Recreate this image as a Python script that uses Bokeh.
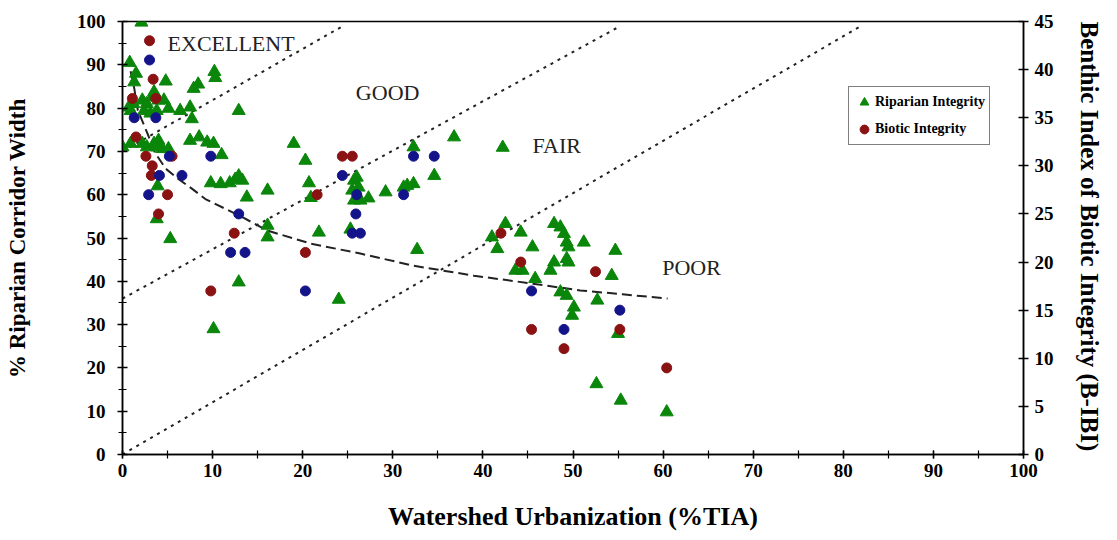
import math

from bokeh.plotting import figure
from bokeh.models import Range1d, LinearAxis, Legend, LegendItem, FixedTicker
from bokeh.core.properties import value
from bokeh.embed import file_html
from bokeh.resources import INLINE

FONT = "Liberation Serif"

# Riparian integrity: % riparian corridor width vs. watershed %TIA
rip_tia = [2.1, 0.8, 1.5, 1.3, 4.8, 8.4, 10.2, 10.3, 7.9, 2.2, 2.7, 3.3, 3.5, 4.0, 4.6,
           2.4, 3.1, 3.8, 5.1, 6.4, 7.5, 7.7, 12.9, 1.2, 0.7, 0.9, 0.0, 0.9, 2.2, 2.7,
           3.5, 3.8, 4.0, 4.4, 5.1, 7.5, 8.5, 9.4, 10.1, 11.0, 3.9, 3.8, 5.3, 9.8, 10.9,
           11.9, 12.5, 12.9, 13.3, 13.8, 16.1, 19.0, 20.3, 20.7, 20.9, 16.1, 16.1, 21.8,
           25.3, 12.9, 10.1, 24.0, 32.7, 25.7, 26.0, 25.5, 26.2, 26.4, 25.7, 27.3, 29.2,
           31.2, 31.6, 32.3, 34.6, 32.3, 36.8, 42.2, 42.5, 41.0, 41.6, 44.2, 45.5, 43.6,
           44.4, 45.8, 47.9, 48.6, 49.0, 49.3, 49.5, 51.2, 47.9, 47.5, 49.3, 49.5, 48.6,
           49.3, 50.1, 49.9, 52.7, 54.7, 54.3, 55.0, 52.6, 55.3, 60.4]
rip_width = [99.8, 90.5, 88.0, 86.0, 86.2, 85.5, 88.4, 87.0, 84.5, 81.8, 81.0, 82.5, 83.7,
             81.8, 81.8, 79.4, 78.8, 79.4, 79.9, 79.4, 80.2, 77.5, 79.4, 81.0, 80.2, 79.4,
             71.0, 71.8, 71.8, 71.0, 71.8, 71.0, 72.5, 70.6, 70.6, 72.5, 73.3, 72.1, 71.8,
             69.2, 62.0, 54.4, 49.8, 62.7, 62.5, 62.7, 63.5, 64.3, 63.3, 59.4, 61.0, 71.8,
             67.9, 62.7, 59.3, 52.9, 50.2, 51.3, 52.0, 39.8, 29.0, 35.8, 47.3, 63.3, 64.0,
             61.0, 61.7, 58.7, 58.7, 59.2, 60.6, 61.7, 62.1, 62.5, 64.4, 71.0, 73.3, 70.9,
             53.3, 50.2, 47.5, 51.3, 47.9, 42.5, 42.5, 40.6, 53.3, 52.5, 51.0, 49.0, 47.9,
             49.0, 44.4, 42.5, 45.2, 44.4, 37.5, 36.7, 34.0, 32.1, 35.6, 47.1, 41.3, 27.9,
             16.3, 12.5, 9.8]

# Biotic integrity (B-IBI score) vs. watershed %TIA
bio_tia = [3.0, 3.4, 1.1, 3.7, 1.5, 2.6, 5.5, 3.3, 3.2, 5.0, 4.0, 12.4, 9.8, 20.3, 21.6,
           24.4, 25.5, 42.0, 44.2, 45.4, 49.0, 52.5, 55.2, 60.4]
bio_ibi = [43, 39, 37, 37, 33, 31, 31, 30, 29, 27, 25, 23, 17, 21, 27,
           31, 31, 23, 20, 13, 11, 19, 13, 9]

# Additional B-IBI sites
bio2_tia = [3.0, 1.3, 3.7, 5.2, 9.8, 4.1, 6.6, 2.9, 12.9, 12.0, 13.6, 20.3, 24.4, 26.0,
            25.9, 25.5, 26.4, 31.2, 32.3, 34.6, 45.4, 49.0, 55.2]
bio2_ibi = [41, 35, 35, 31, 31, 29, 29, 27, 25, 21, 21, 17, 29, 27,
            25, 23, 23, 27, 31, 31, 17, 13, 15]

# Trend of corridor width with urbanization
trend_tia = [0.9, 1.3, 1.7, 2.8, 3.6, 4.8, 6.1, 7.7, 9.2, 13.4, 16.1, 20.9, 26.4, 32.3,
             39.0, 45.0, 50.8, 55.5, 60.5]
trend_width = [88.5, 84.6, 79.5, 74.0, 69.7, 66.0, 63.8, 61.4, 59.0, 54.7, 51.7, 48.7,
               46.4, 43.6, 41.3, 39.6, 37.9, 37.0, 36.0]

# Dividers between the integrity classes (start and end points)
div_tia = [[0, 24.5], [0, 55.3], [0, 82.0]]
div_width = [[70, 99], [36, 99], [0, 99]]

class_names = ["EXCELLENT", "GOOD", "FAIR", "POOR"]

p = figure(frame_width=901, frame_height=433,
           x_range=Range1d(0, 100), y_range=Range1d(0, 100),
           output_backend="svg", toolbar_location=None,
           min_border_left=122, min_border_right=94,
           min_border_top=21, min_border_bottom=86)
p.extra_y_ranges = {"ibi": Range1d(0, 45)}
p.grid.visible = False
p.background_fill_color = "white"
p.border_fill_color = "white"
p.outline_line_color = "black"
p.outline_line_width = 1.5


def style_axis(ax, tick):
    ax.axis_line_color = "black"
    ax.axis_line_width = 1.5
    ax.major_tick_line_color = "black"
    ax.major_tick_line_width = 1.5
    ax.minor_tick_line_color = "black"
    ax.minor_tick_line_width = 1.2
    ax.major_tick_in = tick
    ax.major_tick_out = tick
    ax.minor_tick_in = tick - 1
    ax.minor_tick_out = tick - 1
    ax.major_label_text_font = FONT
    ax.major_label_text_font_style = "bold"
    ax.major_label_text_font_size = "19px"
    ax.major_label_text_color = "black"
    ax.axis_label_text_font = FONT
    ax.axis_label_text_font_style = "bold"
    ax.axis_label_text_color = "black"


xa = p.xaxis[0]
xa.ticker = FixedTicker(ticks=list(range(0, 101, 10)), minor_ticks=list(range(0, 101, 5)))
style_axis(xa, 4)
xa.minor_tick_in = 4
xa.minor_tick_out = 4
xa.major_label_standoff = 5
xa.axis_label = "Watershed Urbanization (%TIA)"
xa.axis_label_text_font_size = "26px"
xa.axis_label_standoff = 22

ya = p.yaxis[0]
ya.ticker = FixedTicker(ticks=list(range(0, 101, 10)), minor_ticks=list(range(0, 101, 5)))
style_axis(ya, 5)
ya.major_label_standoff = 12
ya.axis_label = "% Riparian Corridor Width"
ya.axis_label_text_font_size = "23px"
ya.axis_label_standoff = 44

ra = LinearAxis(y_range_name="ibi",
                ticker=FixedTicker(ticks=list(range(0, 46, 5)), minor_ticks=[]))
style_axis(ra, 5)
ra.major_label_standoff = 6
ra.axis_label = "Benthic Index of Biotic Integrity (B-IBI)"
ra.axis_label_text_font_size = "25px"
ra.axis_label_standoff = 33
# the right-hand title reads from top to bottom, starting at the top of the axis
if hasattr(ra, "axis_label_orientation"):
    ra.axis_label_orientation = -math.pi / 2
if hasattr(ra, "axis_label_align"):
    ra.axis_label_align = "end"
p.add_layout(ra, "right")

# class dividers and trend
p.multi_line(div_tia, div_width, line_color="#222222", line_width=2, line_dash="3 5")
p.line(trend_tia, trend_width, line_color="#222222", line_width=2, line_dash="10 5")

# class labels
p.text(x=[5.0, 25.9, 45.5, 59.9], y=[95.0, 83.6, 71.4, 43.3], text=class_names,
       text_font=value(FONT), text_font_size="22px", text_color="#222222",
       text_align="left", text_baseline="middle")

tri = p.scatter(rip_tia, rip_width, marker="triangle", size=13,
                fill_color="#0a860a", line_color="#0a860a")
red = p.scatter(bio_tia, bio_ibi, y_range_name="ibi", marker="circle", size=10,
                fill_color="#8a1212", line_color="#8a1212")
p.scatter(bio2_tia, bio2_ibi, y_range_name="ibi", marker="circle", size=10,
          fill_color="#14148a", line_color="#14148a")

legend = Legend(items=[LegendItem(label="Riparian Integrity", renderers=[tri]),
                       LegendItem(label="Biotic Integrity", renderers=[red])],
                location=(726, 309))
legend.border_line_color = "black"
legend.border_line_width = 1.5
legend.padding = 4
legend.spacing = 5
legend.margin = 0
legend.glyph_width = 22
legend.glyph_height = 22
legend.label_height = 22
legend.label_standoff = 0
legend.label_text_font = FONT
legend.label_text_font_style = "bold"
legend.label_text_font_size = "14px"
legend.label_text_color = "black"
legend.background_fill_alpha = 1
p.add_layout(legend, "center")

open("out.html", "w").write(file_html(p, INLINE))
